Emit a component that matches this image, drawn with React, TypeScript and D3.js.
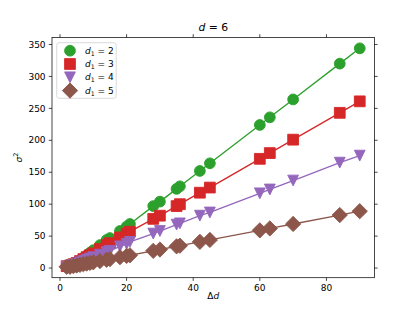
import { useEffect, useRef } from 'react'
import * as d3 from 'd3'

// Δd values shared by all series
const deltaD = [2, 3, 4, 5, 6, 7, 8, 9, 10, 12, 14, 15, 18, 20, 21, 28, 30, 35, 36, 42, 45, 60, 63, 70, 84, 90]

// σ² for each d1
const sigmaD1_2 = [3, 5, 7, 9, 12, 16, 20, 24, 28, 36, 44, 47, 58, 65, 69, 97, 104, 124, 128, 152, 164, 224, 236, 264, 320, 344]
const sigmaD1_3 = [3, 4, 6, 8, 11, 14, 17, 20, 23, 30, 36, 39, 48, 54, 57, 77, 82, 97, 100, 118, 126, 171, 180, 201, 243, 261]
const sigmaD1_4 = [2, 3, 5, 7, 9, 11, 13, 15, 17, 21, 25, 27, 34, 38, 41, 54, 58, 68, 70, 82, 87, 117, 123, 137, 165, 176]
const sigmaD1_5 = [2, 2, 3, 4, 5, 6, 7, 8, 9, 11, 13, 14, 17, 19, 20, 27, 29, 34, 35, 41, 44, 59, 62, 69, 83, 89]

const d1Labels = ['2', '3', '4', '5']
const xTicks = [0, 20, 40, 60, 80]
const yTicks = [0, 50, 100, 150, 200, 250, 300, 350]

const colors = ['#2ca02c', '#d62728', '#9467bd', '#8c564b']
const shapes = ['circle', 'square', 'triDown', 'diamond']

function markerPath(shape: string, ms: number) {
  const h = ms / 2
  if (shape === 'circle') {
    return `M${h},0A${h},${h} 0 1,1 ${-h},0A${h},${h} 0 1,1 ${h},0Z`
  }
  if (shape === 'square') return `M${-h},${-h}H${h}V${h}H${-h}Z`
  if (shape === 'triDown') return `M0,${h}L${-h},${-h}L${h},${-h}Z`
  const r = h * Math.SQRT2
  return `M0,${-r}L${r},0L0,${r}L${-r},0Z`
}

export default function App() {
  const ref = useRef<SVGSVGElement>(null)

  useEffect(() => {
    const svg = d3.select(ref.current)
    svg.selectAll('*').remove()
    const width = 416
    const height = 312
    const margin = { top: 37.4, right: 41.6, bottom: 34.3, left: 52 }
    const font = 'DejaVu Sans'
    const fs = 9
    const ms = 10.8

    const series = [sigmaD1_2, sigmaD1_3, sigmaD1_4, sigmaD1_5]
    const allY = series.flat()
    const xExt = d3.extent(deltaD) as [number, number]
    const yExt = d3.extent(allY) as [number, number]
    const xPad = (xExt[1] - xExt[0]) * 0.05
    const yPad = (yExt[1] - yExt[0]) * 0.05

    const x = d3.scaleLinear().domain([xExt[0] - xPad, xExt[1] + xPad]).range([margin.left, width - margin.right])
    const y = d3.scaleLinear().domain([yExt[0] - yPad, yExt[1] + yPad]).range([height - margin.bottom, margin.top])

    const x0 = margin.left
    const x1 = width - margin.right
    const y0 = height - margin.bottom
    const y1 = margin.top

    // plot lines + markers, one series at a time
    const line = d3.line<number>().x((_, i) => x(deltaD[i])).y(d => y(d))
    series.forEach((vals, s) => {
      const g = svg.append('g')
      g.append('path')
        .attr('d', line(vals))
        .attr('fill', 'none')
        .attr('stroke', colors[s])
        .attr('stroke-width', 1.35)
      g.selectAll('path.m')
        .data(vals)
        .enter()
        .append('path')
        .attr('class', 'm')
        .attr('d', markerPath(shapes[s], ms))
        .attr('transform', (d, i) => `translate(${x(deltaD[i])},${y(d)})`)
        .attr('fill', colors[s])
        .attr('stroke', colors[s])
        .attr('stroke-width', 0.9)
    })

    // spines
    svg.append('rect')
      .attr('x', x0).attr('y', y1)
      .attr('width', x1 - x0).attr('height', y0 - y1)
      .attr('fill', 'none').attr('stroke', '#000').attr('stroke-width', 0.72)

    // ticks on all four sides
    const tl = 3.2
    xTicks.forEach(t => {
      const px = x(t)
      svg.append('line').attr('x1', px).attr('x2', px).attr('y1', y0).attr('y2', y0 + tl).attr('stroke', '#000').attr('stroke-width', 0.72)
      svg.append('line').attr('x1', px).attr('x2', px).attr('y1', y1).attr('y2', y1 - tl).attr('stroke', '#000').attr('stroke-width', 0.72)
      svg.append('text').attr('x', px).attr('y', y0 + tl + 3.2 + 7)
        .attr('text-anchor', 'middle').attr('font-family', font).attr('font-size', fs).text(t)
    })
    yTicks.forEach(t => {
      const py = y(t)
      svg.append('line').attr('x1', x0).attr('x2', x0 - tl).attr('y1', py).attr('y2', py).attr('stroke', '#000').attr('stroke-width', 0.72)
      svg.append('line').attr('x1', x1).attr('x2', x1 + tl).attr('y1', py).attr('y2', py).attr('stroke', '#000').attr('stroke-width', 0.72)
      svg.append('text').attr('x', x0 - tl - 3.2).attr('y', py).attr('dy', '0.35em')
        .attr('text-anchor', 'end').attr('font-family', font).attr('font-size', fs).text(t)
    })

    // title
    const title = svg.append('text')
      .attr('x', (x0 + x1) / 2).attr('y', y1 - 6)
      .attr('text-anchor', 'middle').attr('font-family', font).attr('font-size', 10.8)
    title.append('tspan').attr('font-style', 'italic').text('d')
    title.append('tspan').text(' = 6')

    // axis labels
    const xl = svg.append('text')
      .attr('x', (x0 + x1) / 2).attr('y', 299)
      .attr('text-anchor', 'middle').attr('font-family', font).attr('font-size', fs)
    xl.append('tspan').text('Δ')
    xl.append('tspan').attr('font-style', 'italic').text('d')

    const yl = svg.append('text')
      .attr('transform', `translate(22,${(y0 + y1) / 2}) rotate(-90)`)
      .attr('text-anchor', 'middle').attr('font-family', font).attr('font-size', fs)
    yl.append('tspan').attr('font-style', 'italic').text('σ')
    yl.append('tspan').attr('font-size', 6.5).attr('dy', -4).text('2')

    // legend
    const lg = svg.append('g')
    lg.append('rect')
      .attr('x', 56.7).attr('y', 42.7).attr('width', 59.5).attr('height', 55.6)
      .attr('rx', 2.5).attr('fill', 'white').attr('fill-opacity', 0.8)
      .attr('stroke', '#cccccc').attr('stroke-width', 0.72)
    d1Labels.forEach((lab, i) => {
      const cy = 50.7 + i * 13.3
      lg.append('path')
        .attr('d', markerPath(shapes[i], ms))
        .attr('transform', `translate(70,${cy})`)
        .attr('fill', colors[i]).attr('stroke', colors[i]).attr('stroke-width', 0.9)
      const t = lg.append('text').attr('x', 85).attr('y', cy).attr('dy', '0.35em')
        .attr('font-family', font).attr('font-size', fs)
      t.append('tspan').attr('font-style', 'italic').text('d')
      t.append('tspan').attr('font-size', 6.3).attr('dy', 2).text('1')
      t.append('tspan').attr('dy', -2).text(` = ${lab}`)
    })
  }, [])

  return (
    <svg
      ref={ref}
      width={416}
      height={312}
      viewBox="0 0 416 312"
      style={{ position: 'absolute', left: 0, top: 0, background: 'white' }}
    />
  )
}
